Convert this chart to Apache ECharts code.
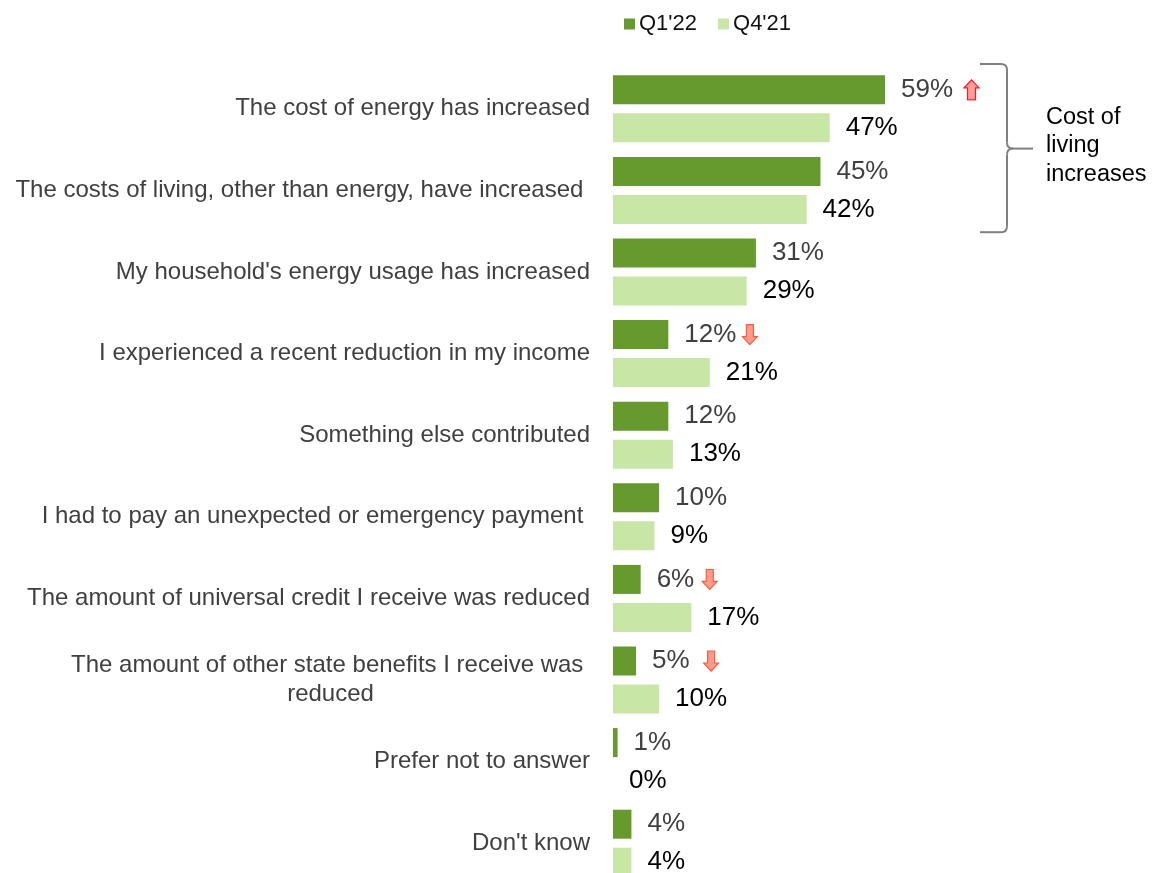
<!DOCTYPE html>
<html>
<head>
<meta charset="utf-8">
<script src="https://cdn.jsdelivr.net/npm/echarts@6/dist/echarts.min.js"></script>
<style>
  html, body { margin: 0; padding: 0; background: #fff; overflow: hidden; }
  #chart { width: 1153px; height: 900px; }
</style>
</head>
<body>
<div id="chart"></div>
<script>
// Reasons given for financial difficulty, two survey waves
const categories = [
  "The cost of energy has increased",
  "The costs of living, other than energy, have increased ",
  "My household's energy usage has increased",
  "I experienced a recent reduction in my income",
  "Something else contributed",
  "I had to pay an unexpected or emergency payment ",
  "The amount of universal credit I receive was reduced",
  "The amount of other state benefits I receive was \nreduced",
  "Prefer not to answer",
  "Don't know"
];
const seriesNames = ["Q1'22", "Q4'21"];
const q1_22 = [59, 45, 31, 12, 12, 10, 6, 5, 1, 4];
const q4_21 = [47, 42, 29, 21, 13, 9, 17, 10, 0, 4];
// Significant change vs previous wave: 'up', 'down' or null
const changeFlags = ['up', null, null, 'down', null, null, 'down', 'down', null, null];
const bracketLabel = "Cost of\nliving\nincreases";

const FONT = "'Liberation Sans', Arial, sans-serif";
const DARK = '#66992E';
const LIGHT = '#C8E6A5';

function arrowSvg(dir) {
  const up = 'M8.5 1 L16 9 L12.5 9 L12.5 21 L4.5 21 L4.5 9 L1 9 Z';
  const down = 'M5 1 L12 1 L12 13 L16 13 L8.5 21 L1 13 L5 13 Z';
  const stroke = dir === 'up' ? '#FF1A1A' : '#F2603C';
  const fill = dir === 'up' ? '#FF9C9C' : '#FF9A8C';
  const svg = '<svg xmlns="http://www.w3.org/2000/svg" width="17" height="22" viewBox="0 0 17 22">' +
    '<path d="' + (dir === 'up' ? up : down) + '" fill="' + fill + '" stroke="' + stroke + '" stroke-width="1.2" stroke-linejoin="miter"/></svg>';
  return 'data:image/svg+xml;charset=utf-8,' + encodeURIComponent(svg);
}

const chart = echarts.init(document.getElementById('chart'));

const option = {
  animation: false,
  backgroundColor: '#fff',
  textStyle: { fontFamily: FONT },
  legend: {
    data: seriesNames,
    left: 619,
    top: 8,
    icon: 'rect',
    itemWidth: 11,
    itemHeight: 11,
    itemGap: 21,
    textStyle: { fontFamily: FONT, fontSize: 22, color: '#111', padding: [0, 0, 0, -1] }
  },
  grid: { left: 613, top: 68, width: 461, height: 816, containLabel: false },
  xAxis: {
    type: 'value', min: 0, max: 100, show: false,
    splitLine: { show: false }
  },
  yAxis: {
    type: 'category',
    data: categories,
    inverse: true,
    axisLine: { show: false },
    axisTick: { show: false },
    axisLabel: {
      margin: 23,
      fontFamily: FONT,
      fontSize: 24,
      color: '#404040',
      lineHeight: 29,
      formatter: function (val) {
        if (val.indexOf('\n') >= 0) {
          return val.split('\n').map(s => '{c|' + s + '}').join('\n');
        }
        return val;
      },
      rich: {
        c: { align: 'center', fontFamily: FONT, fontSize: 24, color: '#404040', lineHeight: 29 }
      }
    }
  },
  series: [
    {
      name: seriesNames[0],
      type: 'bar',
      data: q1_22,
      barWidth: 29,
      barGap: '31%',
      itemStyle: { color: DARK },
      label: {
        show: true,
        position: 'right',
        distance: 16,
        formatter: function (p) {
          const f = changeFlags[p.dataIndex];
          const gap = p.value >= 10 ? (f === 'up' ? '{g10|}' : '{g5|}') : (p.value === 5 ? '{g13|}' : '{g7|}');
          return '{v|' + p.value + '%}' + (f ? gap + '{' + f + '|}' : '');
        },
        rich: {
          v: { fontFamily: FONT, fontSize: 26, color: '#404040' },
          g5: { width: 5 }, g7: { width: 7 }, g10: { width: 10 }, g13: { width: 13 },
          up: { width: 17, height: 22, backgroundColor: { image: arrowSvg('up') } },
          down: { width: 17, height: 22, backgroundColor: { image: arrowSvg('down') } }
        }
      }
    },
    {
      name: seriesNames[1],
      type: 'bar',
      data: q4_21,
      barWidth: 29,
      itemStyle: { color: LIGHT },
      label: {
        show: true,
        position: 'right',
        distance: 16,
        formatter: '{c}%',
        fontFamily: FONT,
        fontSize: 26,
        color: '#000'
      }
    }
  ]
};

chart.setOption(option);

// Brace grouping the first two categories, placed from the category band edges
const c0 = chart.convertToPixel({ yAxisIndex: 0 }, categories[0]);
const c1 = chart.convertToPixel({ yAxisIndex: 0 }, categories[1]);
const band = Math.abs(c1 - c0);
const T = c0 - band / 2 - 4;
const B = c1 + band / 2 + 1;
const M = (T + B) / 2 + 0.5;
const xl = 980, xv = 1007, xt = 1033, r = 6;
const braceStyle = { fill: null, stroke: '#808080', lineWidth: 2 };

function seg(x1, y1, x2, y2) {
  return { type: 'line', shape: { x1, y1, x2, y2 }, style: braceStyle, silent: true };
}
function curve(x1, y1, cx, cy, x2, y2) {
  return { type: 'bezierCurve', shape: { x1, y1, x2, y2, cpx1: cx, cpy1: cy }, style: braceStyle, silent: true };
}

chart.setOption({
  graphic: [
    seg(xl, T, xv - r, T),
    curve(xv - r, T, xv, T, xv, T + r),
    seg(xv, T + r, xv, M - r),
    curve(xv, M - r, xv, M, xv + r, M),
    seg(xv + r, M, xt, M),
    curve(xv + r, M, xv, M, xv, M + r),
    seg(xv, M + r, xv, B - r),
    curve(xv, B - r, xv, B, xv - r, B),
    seg(xv - r, B, xl, B),
    {
      type: 'text',
      x: 1046,
      y: M - 3,
      style: {
        text: bracketLabel,
        fontFamily: FONT,
        fontSize: 23.5,
        lineHeight: 28.5,
        fill: '#000',
        align: 'left',
        verticalAlign: 'middle'
      }
    }
  ]
});
</script>
</body>
</html>
